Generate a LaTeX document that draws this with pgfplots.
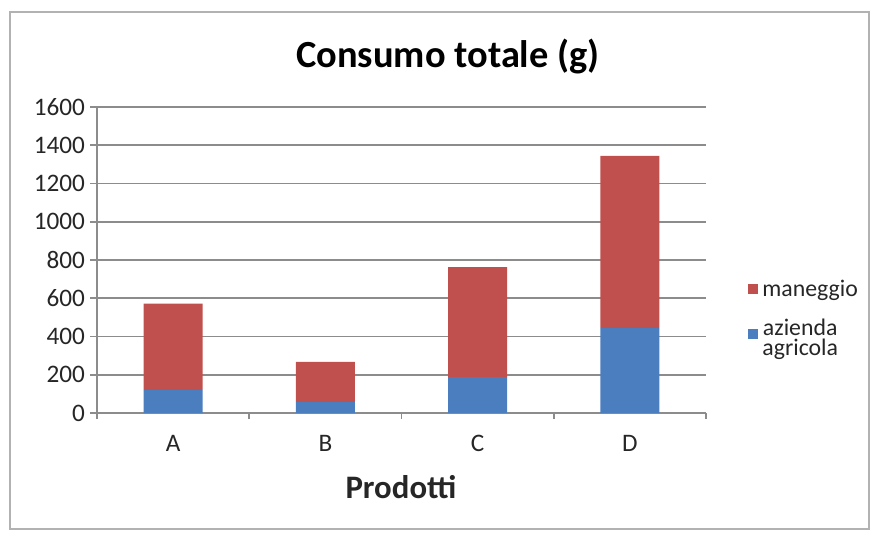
\documentclass[border=0pt]{standalone}
\usepackage{pgfplots}
\pgfplotsset{compat=1.18}
\usepackage{pgfplotstable}
\usepackage{fontspec}
\setmainfont{Carlito}
\definecolor{xlred}{HTML}{C0504D}
\definecolor{xlblue}{HTML}{4A7EBF}
\definecolor{xlgrid}{HTML}{8C8C8C}
\definecolor{xltext}{HTML}{262626}
\pgfplotstableread{
x azienda maneggio
0 120 452
1 58 209
2 188 575
3 444 900
}\datatab
\begin{document}
\begin{tikzpicture}
\begin{scope}[x=0.5pt,y=0.5pt]
\path[use as bounding box] (0,0) rectangle (872,532);
\draw[color=gray!60, line width=1pt] (10,520) -- (869,520) -- (869,3) -- (10,3) -- cycle;
\end{scope}
\begin{axis}[
  at={(48.5pt,59.5pt)}, anchor=south west,
  scale only axis, width=304.5pt, height=153pt,
  ybar stacked, bar width=29.5pt,
  xmin=-0.5, xmax=3.5, ymin=0, ymax=1600,
  xtick={0,1,2,3}, xticklabels={A,B,C,D},
  minor xtick={-0.5,0.5,1.5,2.5,3.5},
  ytick={0,200,...,1600},
  axis x line*=bottom, axis y line*=left,
  axis line style={xlgrid, line width=0.9pt, -},
  ymajorgrids, grid style={xlgrid, line width=0.9pt},
  tick align=outside,
  major tick length=3.5pt, minor tick length=3pt,
  major x tick style={draw=none},
  tick style={xlgrid, line width=0.9pt},
  ticklabel style={font=\fontsize{12.6pt}{14pt}\selectfont, text=xltext},
  /pgf/number format/assume math mode=true,
  /pgf/number format/1000 sep={},
  yticklabel style={anchor=east, xshift=1pt},
  xticklabel style={yshift=-4pt},
  legend style={at={(1.069,0.45)}, anchor=north west, draw=none, fill=none,
    inner sep=0pt, row sep=6pt, font=\fontsize{11.9pt}{11pt}\selectfont, text=xltext},
  legend cell align=left,
  reverse legend,
  legend image code/.code={\fill[#1] (0pt,-2.5pt) rectangle (5pt,2.5pt);},
]
\addplot[fill=xlblue, draw=none] table[x=x, y=azienda] {\datatab};
\addlegendentry{\begin{tabular}{@{}c@{}}azienda\\[-1.5pt]agricola\end{tabular}}
\addplot[fill=xlred, draw=none] table[x=x, y=maneggio] {\datatab};
\addlegendentry{maneggio}
\end{axis}
\begin{scope}[x=0.5pt,y=0.5pt]
\node[font=\bfseries\fontsize{19.2pt}{22pt}\selectfont, text=black] at (448,475) {Consumo totale (g)};
\node[font=\bfseries\fontsize{16.4pt}{19pt}\selectfont, text=xltext] at (401,45) {Prodotti};
\end{scope}
\end{tikzpicture}
\end{document}
